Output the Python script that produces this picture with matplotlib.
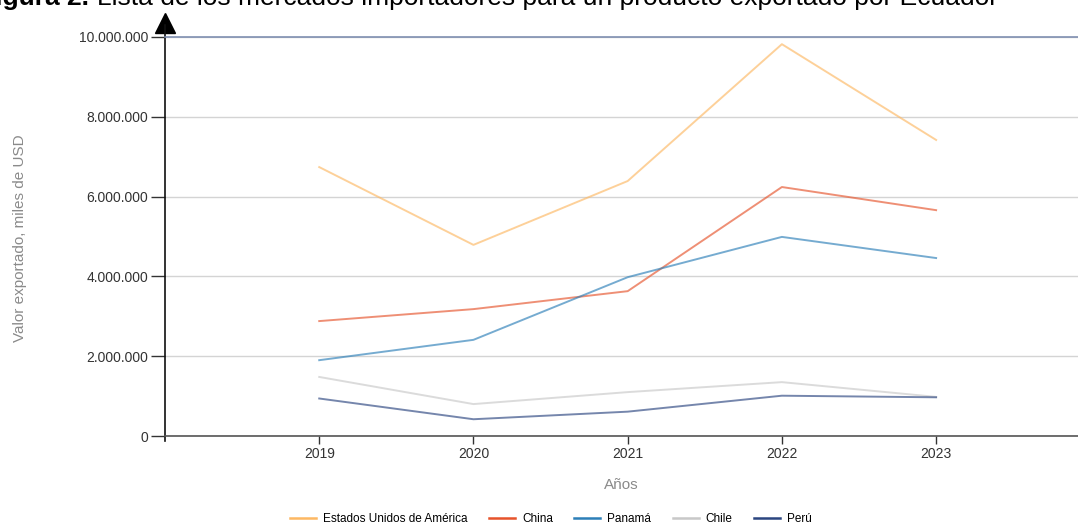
import matplotlib
matplotlib.use("Agg")
import matplotlib.pyplot as plt
from matplotlib.ticker import FuncFormatter, FixedLocator

plt.rcParams["font.family"] = ["Liberation Sans", "DejaVu Sans"]

years = [2019, 2020, 2021, 2022, 2023]
paises = ["Estados Unidos de América", "China", "Panamá", "Chile", "Perú"]
usa = [6740000, 4790000, 6390000, 9820000, 7420000]
china = [2880000, 3180000, 3630000, 6240000, 5660000]
panama = [1900000, 2410000, 3980000, 4990000, 4460000]
chile = [1480000, 800000, 1100000, 1350000, 980000]
peru = [940000, 420000, 610000, 1010000, 970000]
yticks = [0, 2000000, 4000000, 6000000, 8000000, 10000000]

series = [usa, china, panama, chile, peru]
colores = ["#fdb863", "#e6532b", "#2c7fb8", "#c8c8c8", "#2b4580"]

fig = plt.figure(figsize=(10.78, 5.25), dpi=100)
ax = fig.add_axes([165 / 1078, 1 - 436 / 525, 1 - 165 / 1078, 399 / 525])

for vals, c, nombre in zip(series, colores, paises):
    ax.plot(years, vals, color=c, lw=1.4, alpha=0.65, label=nombre)

ax.set_xlim(2018.0, 2023.92)
ax.set_ylim(0, 10000000)
ax.xaxis.set_major_locator(FixedLocator(years))
ax.yaxis.set_major_locator(FixedLocator(yticks))
ax.yaxis.set_major_formatter(FuncFormatter(lambda v, p: f"{int(v):,}".replace(",", ".")))

ax.grid(axis="y", color="#d4d4d4", lw=1)
ax.set_axisbelow(True)
ax.spines["right"].set_visible(False)
ax.spines["top"].set_color("#7f8fb0")
ax.spines["top"].set_linewidth(1.2)
ax.spines["bottom"].set_color("#555555")
ax.spines["bottom"].set_linewidth(1.2)
ax.spines["left"].set_color("#111111")
ax.spines["left"].set_linewidth(1.2)
ax.spines["left"].set_bounds(-120000, 10000000)

ax.tick_params(axis="y", length=10, width=1, color="#333333", labelsize=10,
               labelcolor="#333333", pad=2)
ax.tick_params(axis="x", length=6, width=1, color="#333333", labelsize=10,
               labelcolor="#333333", pad=2)

# flecha en el extremo superior del eje vertical
ax.plot([0.0], [1.036], marker="^", markersize=15, color="black",
        transform=ax.transAxes, clip_on=False)
ax.plot([0.0, 0.0], [1.0, 1.03], color="#111111", lw=1.2,
        transform=ax.transAxes, clip_on=False)

ax.set_xlabel("Años", color="#8a8a8a", fontsize=11, labelpad=12)
fig.text(20 / 1078, 1 - 238 / 525, "Valor exportado, miles de USD", rotation=90,
         color="#8a8a8a", fontsize=11, ha="center", va="center")

# título: parte en negrita y resto en normal
fig.text(89 / 1078, 1 - 5 / 525, "Figura 2.", fontsize=19, fontweight="bold",
         ha="right", va="baseline", color="black")
fig.text(97 / 1078, 1 - 5 / 525,
         "Lista de los mercados importadores para un producto exportado por Ecuador",
         fontsize=19, ha="left", va="baseline", color="black")

leg = fig.legend(loc="center", bbox_to_anchor=(551 / 1078, 1 - 519 / 525), ncol=5,
                 frameon=False, fontsize=8.5, handlelength=2.2, columnspacing=1.8,
                 handletextpad=0.6)
for h in leg.get_lines():
    h.set_alpha(1)
    h.set_linewidth(1.8)

fig.savefig("out.png", dpi=100)
